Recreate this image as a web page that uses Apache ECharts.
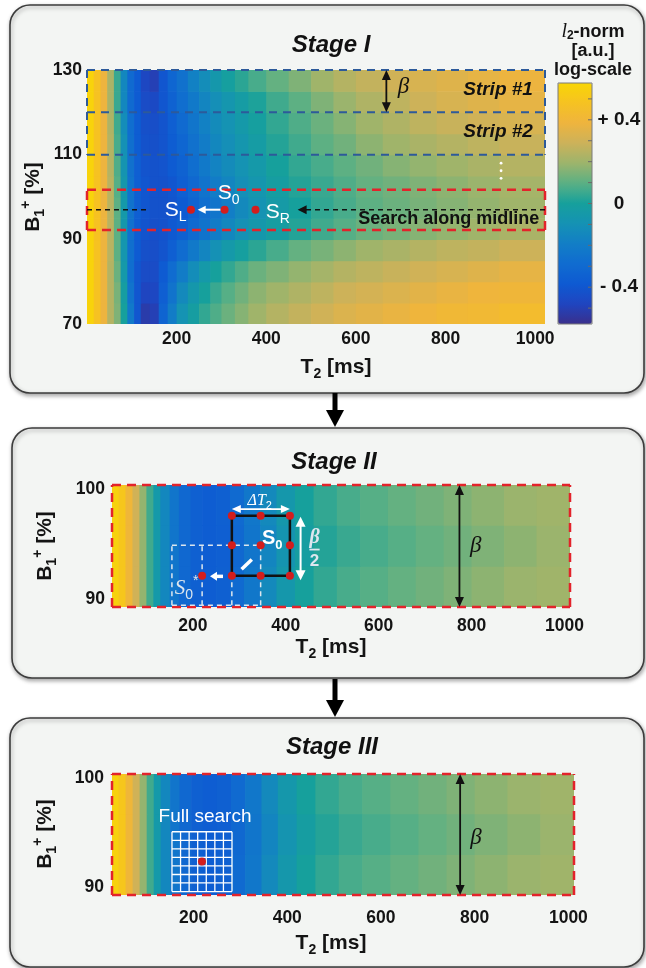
<!DOCTYPE html>
<html>
<head>
<meta charset="utf-8">
<title>Stage I - III search</title>
<script src="https://cdn.jsdelivr.net/npm/echarts@6.0.0/dist/echarts.min.js"></script>
<style>
html,body{margin:0;padding:0;background:#ffffff;}
#chart{width:646px;height:968px;}
</style>
</head>
<body>
<div id="chart"></div>
<script>
// ================= DATA =================
const t2Ticks = [200, 400, 600, 800, 1000];
const stage1B1Ticks = [70, 90, 110, 130];
const stage23B1Ticks = [90, 100];
const colorbarLabelValues = [-0.4, 0, 0.4];
const colorbarTickValues = [-0.5, -0.4, -0.3, -0.2, -0.1, 0, 0.1, 0.2, 0.3, 0.4, 0.5];

const stage1T2Range = [0, 1022];
const stage1B1Range = [70, 130];
const stage23T2Range = [26, 1012];
const stage23B1Range = [89.25, 100.4];
const colorRange = [-0.576, 0.576];

// Stage I map: T2 cell edges [ms], B1 cell edges [%], values (rows from B1=70 upward)
const stage1T2Edges = [0, 15, 30, 45, 60, 75, 90, 105, 120, 140, 160, 180, 200, 225, 250, 275, 300, 330, 360, 400, 450, 500, 550, 600, 660, 720, 780, 850, 920, 1022];
const stage1B1Edges = [70, 75, 80, 85, 90, 95, 100, 105, 110, 115, 120, 125, 130];
const stage1Values = [
  [0.56,0.48,0.38,0.24,0.15,0.00,-0.22,-0.40,-0.52,-0.50,-0.33,-0.20,-0.09,-0.02,0.04,0.08,0.12,0.16,0.20,0.24,0.27,0.30,0.33,0.35,0.37,0.39,0.41,0.42,0.44],
  [0.56,0.48,0.38,0.24,0.14,-0.02,-0.25,-0.40,-0.48,-0.47,-0.36,-0.25,-0.14,-0.06,0.00,0.05,0.09,0.13,0.17,0.20,0.23,0.26,0.29,0.31,0.33,0.35,0.37,0.39,0.40],
  [0.56,0.48,0.38,0.24,0.12,-0.05,-0.28,-0.40,-0.45,-0.45,-0.38,-0.29,-0.20,-0.12,-0.05,0.00,0.04,0.08,0.12,0.15,0.18,0.21,0.24,0.26,0.28,0.30,0.32,0.34,0.36],
  [0.56,0.48,0.38,0.25,0.10,-0.07,-0.27,-0.38,-0.43,-0.44,-0.41,-0.36,-0.29,-0.22,-0.16,-0.10,-0.05,-0.01,0.03,0.07,0.11,0.14,0.17,0.20,0.22,0.24,0.26,0.27,0.29],
  [0.56,0.48,0.38,0.25,0.10,-0.06,-0.26,-0.37,-0.41,-0.43,-0.42,-0.39,-0.35,-0.30,-0.25,-0.20,-0.15,-0.10,-0.06,-0.02,0.02,0.06,0.09,0.12,0.14,0.16,0.18,0.20,0.22],
  [0.56,0.48,0.38,0.25,0.10,-0.05,-0.25,-0.36,-0.40,-0.42,-0.42,-0.41,-0.38,-0.33,-0.28,-0.24,-0.19,-0.14,-0.09,-0.04,0.00,0.04,0.07,0.10,0.12,0.14,0.16,0.18,0.20],
  [0.56,0.48,0.38,0.25,0.09,-0.06,-0.25,-0.36,-0.40,-0.42,-0.42,-0.40,-0.36,-0.31,-0.25,-0.20,-0.16,-0.11,-0.07,-0.02,0.02,0.05,0.08,0.11,0.13,0.15,0.17,0.19,0.21],
  [0.56,0.48,0.38,0.24,0.08,-0.08,-0.26,-0.36,-0.41,-0.42,-0.41,-0.38,-0.34,-0.28,-0.22,-0.17,-0.13,-0.09,-0.05,0.00,0.04,0.07,0.10,0.13,0.16,0.18,0.20,0.22,0.24],
  [0.56,0.48,0.38,0.24,0.07,-0.10,-0.27,-0.37,-0.42,-0.43,-0.41,-0.37,-0.32,-0.26,-0.20,-0.15,-0.11,-0.07,-0.03,0.02,0.06,0.10,0.13,0.17,0.20,0.22,0.24,0.26,0.28],
  [0.56,0.48,0.38,0.23,0.06,-0.12,-0.28,-0.37,-0.43,-0.44,-0.41,-0.36,-0.30,-0.24,-0.18,-0.13,-0.09,-0.05,-0.01,0.04,0.08,0.12,0.16,0.20,0.23,0.26,0.28,0.30,0.32],
  [0.56,0.48,0.38,0.22,0.05,-0.15,-0.30,-0.38,-0.45,-0.46,-0.40,-0.34,-0.28,-0.22,-0.16,-0.11,-0.07,-0.03,0.01,0.06,0.10,0.15,0.19,0.23,0.26,0.29,0.32,0.34,0.36],
  [0.56,0.48,0.38,0.22,0.05,-0.15,-0.30,-0.38,-0.47,-0.50,-0.40,-0.32,-0.26,-0.18,-0.12,-0.06,-0.01,0.03,0.07,0.11,0.15,0.20,0.24,0.27,0.30,0.32,0.34,0.36,0.38]
];

// Stage II / III map (B1 90-100 %)
const stage23T2Edges = [26, 40, 55, 70, 85, 100, 115, 130, 150, 170, 195, 220, 250, 280, 310, 345, 380, 420, 460, 510, 560, 620, 680, 740, 800, 870, 940, 1012];
const stage23B1Edges = [89.25, 93, 96.75, 100.4];
const stage23Values = [
  [0.55,0.50,0.40,0.30,0.18,0.06,-0.05,-0.15,-0.24,-0.31,-0.35,-0.37,-0.35,-0.30,-0.23,-0.14,-0.06,0.00,0.04,0.07,0.09,0.11,0.13,0.15,0.17,0.19,0.20],
  [0.55,0.50,0.40,0.30,0.18,0.06,-0.05,-0.15,-0.24,-0.31,-0.35,-0.37,-0.36,-0.31,-0.24,-0.16,-0.08,-0.02,0.02,0.05,0.07,0.09,0.11,0.13,0.15,0.17,0.19],
  [0.55,0.50,0.40,0.30,0.18,0.06,-0.05,-0.15,-0.24,-0.31,-0.35,-0.37,-0.35,-0.30,-0.23,-0.14,-0.06,0.00,0.04,0.07,0.09,0.11,0.13,0.15,0.17,0.19,0.20]
];

// Annotations, in data units (T2 ms, B1 %)
const stripB1 = [130, 120, 110];
const stripBetaT2 = 668;
const stripNames = ['Strip #1', 'Strip #2'];
const ellipsisT2 = 924;
const ellipsisB1 = [108, 106.2, 104.4];
const searchBandB1 = [101.7, 92.2];
const midlineB1 = 97;
const midlineLeftEndT2 = 136;
const midlineArrowTipT2 = 470;
const searchPointNames = ['L', '0', 'R'];
const searchPointT2 = [232, 307, 376];

const stage2SquareT2 = [284, 346, 409];
const stage2SquareB1 = [92.1, 94.9, 97.6];
const stage2NewCentre = [220, 92.1];
const stage2PrevT2 = [155, 220, 284, 346];
const stage2PrevB1 = [89.4, 94.9];
const betaArrowT2 = 774;

const stage3GridT2 = [154, 172.3, 190.6, 208.9, 227.2, 245.5, 263.8, 282.1];
const stage3GridB1 = [89.57, 90.36, 91.14, 91.93, 92.72, 93.50, 94.29, 95.08];
const stage3Centre = [218, 92.33];

// ================= STYLE =================
const FONT = '"Liberation Sans", Arial, Helvetica, sans-serif';
const SERIF = '"Liberation Serif", "DejaVu Serif", "Times New Roman", serif';
const RED = '#e3232b', BLUE = '#2d5a9a', WHITE = '#ffffff', PALE = '#dde6ee', BLACK = '#111111', DOTRED = '#d31d1d';
const parula = ['#3a2f8c','#1f45c0','#0e5ad2','#106cd0','#127ec6','#1592b4','#16a09c','#5ab084','#9cb46c','#ccb25a','#eeb43e','#f6c222','#f8d606'];

function buildCells(t2Edges, b1Edges, values) {
  const out = [];
  for (let r = 0; r < values.length; r++) {
    for (let c = 0; c < values[r].length; c++) {
      out.push([t2Edges[c], t2Edges[c + 1], b1Edges[r], b1Edges[r + 1], values[r][c]]);
    }
  }
  return out;
}

function renderCell(params, api) {
  const a = api.coord([api.value(0), api.value(3)]);
  const b = api.coord([api.value(1), api.value(2)]);
  return {
    type: 'rect',
    shape: { x: a[0], y: a[1], width: b[0] - a[0] + 0.7, height: b[1] - a[1] + 0.7 },
    style: { fill: api.visual('color') }
  };
}

function seg(p1, p2, color, w, dash) {
  return { type: 'line', shape: { x1: p1[0], y1: p1[1], x2: p2[0], y2: p2[1] },
    style: { stroke: color, lineWidth: w, lineDash: dash || null, fill: null } };
}
function head(tip, from, len, wid, color) {
  const dx = tip[0] - from[0], dy = tip[1] - from[1];
  const d = Math.hypot(dx, dy) || 1, ux = dx / d, uy = dy / d;
  const bx = tip[0] - ux * len, by = tip[1] - uy * len;
  return { type: 'polygon', shape: { points: [[tip[0], tip[1]], [bx - uy * wid / 2, by + ux * wid / 2], [bx + uy * wid / 2, by - ux * wid / 2]] },
    style: { fill: color } };
}
function arrow(from, to, color, w, len, wid, both) {
  const dx = to[0] - from[0], dy = to[1] - from[1];
  const d = Math.hypot(dx, dy) || 1, ux = dx / d, uy = dy / d;
  const s = both ? [from[0] + ux * len * 0.8, from[1] + uy * len * 0.8] : from;
  const e = [to[0] - ux * len * 0.8, to[1] - uy * len * 0.8];
  const out = [seg(s, e, color, w), head(to, from, len, wid, color)];
  if (both) out.push(head(from, to, len, wid, color));
  return out;
}
function dot(p, r, color) {
  return { type: 'circle', shape: { cx: p[0], cy: p[1], r: r }, style: { fill: color } };
}
function txt(p, text, st, align, valign) {
  return { type: 'text', x: p[0], y: p[1],
    style: Object.assign({ text: text, align: align || 'center', verticalAlign: valign || 'middle',
      textAlign: align || 'center', textVerticalAlign: valign || 'middle' }, st) };
}
function subRich(size, color, weight, mainStyle, mainFamily) {
  return {
    m: { fontSize: size, fontWeight: weight, fontStyle: mainStyle || 'normal', fontFamily: mainFamily || FONT, fill: color, lineHeight: Math.round(size * 1.35) },
    s: { fontSize: Math.round(size * 0.66), fontWeight: weight, fontFamily: FONT, fill: color, verticalAlign: 'bottom', lineHeight: Math.round(size * 0.8) },
    u: { fontSize: Math.round(size * 0.66), fontWeight: weight, fontFamily: FONT, fill: color, verticalAlign: 'top', lineHeight: Math.round(size * 0.8) }
  };
}
function redBorder(c, tr, br) {
  const dash = [9, 6];
  return [
    seg(c(tr[0], br[1]), c(tr[1], br[1]), RED, 2.5, dash),
    seg(c(tr[0], br[0]), c(tr[1], br[0]), RED, 2.5, dash),
    seg(c(tr[0], br[0]), c(tr[0], br[1]), RED, 2.5, dash),
    seg(c(tr[1], br[0]), c(tr[1], br[1]), RED, 2.5, dash)
  ];
}

function renderStage1Overlay(params, api) {
  const c = (t, b) => api.coord([t, b]);
  const t0 = stage1T2Range[0], t1 = stage1T2Range[1];
  const ch = [];
  const dB = [8, 6];
  stripB1.forEach(b => ch.push(seg(c(t0, b), c(t1, b), BLUE, 2, dB)));
  ch.push(seg(c(t0, stripB1[0]), c(t0, stripB1[2]), BLUE, 2, dB));
  ch.push(seg(c(t1, stripB1[0]), c(t1, stripB1[2]), BLUE, 2, dB));
  ch.push(...arrow(c(stripBetaT2, stripB1[1]), c(stripBetaT2, stripB1[0]), BLACK, 1.8, 10, 9, true));
  ch.push(txt(c(706, 126), 'β', { fill: BLACK, fontSize: 23, fontStyle: 'italic', fontFamily: SERIF }));
  const stripMid = [125.3, 115.4];
  stripNames.forEach((n, i) => ch.push(txt(c(995, stripMid[i]), n,
    { fill: BLACK, fontSize: 19, fontStyle: 'italic', fontWeight: 'bold', fontFamily: FONT }, 'right')));
  ellipsisB1.forEach(b => ch.push(dot(c(ellipsisT2, b), 1.4, WHITE)));
  ch.push(...redBorder(c, [t0, t1], searchBandB1.slice().sort((a, b) => a - b)));
  ch.push(seg(c(t0, midlineB1), c(midlineLeftEndT2, midlineB1), BLACK, 1.5, [5, 4]));
  ch.push(seg(c(t1, midlineB1), c(midlineArrowTipT2 + 14, midlineB1), BLACK, 1.5, [5, 4]));
  ch.push(head(c(midlineArrowTipT2, midlineB1), c(midlineArrowTipT2 + 30, midlineB1), 9, 9, BLACK));
  ch.push(...arrow(c(298, midlineB1), c(247, midlineB1), WHITE, 2, 8, 8, false));
  searchPointT2.forEach(t => ch.push(dot(c(t, midlineB1), 4, DOTRED)));
  const rich = subRich(21, WHITE, 'normal');
  ch.push(txt(c(222, 96.9), '{m|S}{s|L}', { rich: rich, fill: WHITE }, 'right'));
  ch.push(txt(c(292, 100.9), '{m|S}{s|0}', { rich: rich, fill: WHITE }, 'left'));
  ch.push(txt(c(399, 96.5), '{m|S}{s|R}', { rich: rich, fill: WHITE }, 'left'));
  ch.push(txt(c(1009, 94.8), 'Search along midline',
    { fill: BLACK, fontSize: 18, fontWeight: 'bold', fontFamily: FONT }, 'right'));
  return { type: 'group', children: ch };
}

function renderStage2Overlay(params, api) {
  const c = (t, b) => api.coord([t, b]);
  const ch = [];
  ch.push(...redBorder(c, stage23T2Range, stage23B1Range));
  const dW = [5, 4];
  stage2PrevB1.forEach(b => ch.push(seg(c(stage2PrevT2[0], b), c(stage2PrevT2[3], b), PALE, 1.5, dW)));
  stage2PrevT2.forEach(t => ch.push(seg(c(t, stage2PrevB1[0]), c(t, stage2PrevB1[1]), PALE, 1.5, dW)));
  const sq = [[0, 0], [2, 0], [2, 2], [0, 2]].map(k => c(stage2SquareT2[k[0]], stage2SquareB1[k[1]]));
  for (let i = 0; i < 4; i++) ch.push(seg(sq[i], sq[(i + 1) % 4], BLACK, 2.5));
  ch.push(...arrow(c(265, 92.05), c(237, 92.05), WHITE, 3.5, 7, 9, false));
  ch.push(seg(c(305, 92.7), c(327, 93.6), WHITE, 3.5));
  stage2SquareT2.forEach(t => stage2SquareB1.forEach(b => ch.push(dot(c(t, b), 4, DOTRED))));
  ch.push(dot(c(stage2NewCentre[0], stage2NewCentre[1]), 4, DOTRED));
  ch.push(...arrow(c(stage2SquareT2[0], 98.2), c(stage2SquareT2[2], 98.2), WHITE, 1.8, 9, 8, true));
  ch.push(txt(c(344, 98.95), '{m|ΔT}{s|2}', { rich: subRich(16, WHITE, 'normal', 'italic', SERIF), fill: WHITE }));
  ch.push(...arrow(c(432, 97.5), c(432, 91.7), WHITE, 2, 10, 10, true));
  ch.push(txt(c(462, 95.6), 'β', { fill: PALE, fontSize: 20, fontStyle: 'italic', fontWeight: 'bold', fontFamily: SERIF }));
  ch.push(seg(c(451, 94.5), c(473, 94.5), PALE, 1.8));
  ch.push(txt(c(462, 93.45), '2', { fill: PALE, fontSize: 17, fontWeight: 'bold', fontFamily: FONT }));
  ch.push(txt(c(349, 95.55), '{m|S}{s|0}', { rich: subRich(20, WHITE, 'bold'), fill: WHITE }, 'left'));
  ch.push(txt(c(161, 90.95), '{m|S}{s|0}{u|*}', { rich: subRich(21, PALE, 'normal', 'italic', SERIF), fill: PALE }, 'left'));
  ch.push(...arrow(c(betaArrowT2, stage23B1Range[0]), c(betaArrowT2, stage23B1Range[1]), BLACK, 1.8, 10, 9, true));
  ch.push(txt(c(809, 94.8), 'β', { fill: BLACK, fontSize: 23, fontStyle: 'italic', fontFamily: SERIF }));
  return { type: 'group', children: ch };
}

function renderStage3Overlay(params, api) {
  const c = (t, b) => api.coord([t, b]);
  const ch = [];
  ch.push(...redBorder(c, stage23T2Range, stage23B1Range));
  const g0 = stage3GridT2[0], g1 = stage3GridT2[stage3GridT2.length - 1];
  const h0 = stage3GridB1[0], h1 = stage3GridB1[stage3GridB1.length - 1];
  stage3GridT2.forEach(t => ch.push(seg(c(t, h0), c(t, h1), WHITE, 1.3)));
  stage3GridB1.forEach(b => ch.push(seg(c(g0, b), c(g1, b), WHITE, 1.3)));
  ch.push(dot(c(stage3Centre[0], stage3Centre[1]), 4, DOTRED));
  ch.push(txt(c(224.5, 96.45), 'Full search', { fill: WHITE, fontSize: 19, fontFamily: FONT }));
  ch.push(...arrow(c(769, stage23B1Range[0]), c(769, stage23B1Range[1]), BLACK, 1.8, 10, 9, true));
  ch.push(txt(c(803, 94.5), 'β', { fill: BLACK, fontSize: 23, fontStyle: 'italic', fontFamily: SERIF }));
  return { type: 'group', children: ch };
}

function renderColorbarTick(params, api) {
  const p = api.coord([1, api.value(0)]);
  return { type: 'line', shape: { x1: p[0] - 4, y1: p[1], x2: p[0], y2: p[1] }, style: { stroke: '#6a6a6a', lineWidth: 1 } };
}

// ================= AXES =================
const tickFont = { fontFamily: FONT, fontWeight: 'bold', fontSize: 17.5, color: '#141414' };
const plainNum = v => String(Math.round(v));
function xAx(gi, range, margin) {
  return { type: 'value', gridIndex: gi, min: range[0], max: range[1], z: 5,
    axisLine: { show: false }, axisTick: { show: false }, splitLine: { show: false },
    axisLabel: Object.assign({ customValues: t2Ticks, margin: margin, formatter: plainNum }, tickFont) };
}
function yAx(gi, range, ticks, margin) {
  return { type: 'value', gridIndex: gi, min: range[0], max: range[1], z: 5,
    axisLine: { show: false }, axisTick: { show: false }, splitLine: { show: false },
    axisLabel: Object.assign({ customValues: ticks, margin: margin, formatter: plainNum }, tickFont) };
}

// ================= GRAPHIC =================
function panel(x, y, w, h) {
  return { type: 'rect', z: -10, shape: { x: x, y: y, width: w, height: h, r: 20 },
    style: { fill: '#f3f5f3', stroke: '#3c3c3c', lineWidth: 1.6, shadowBlur: 4, shadowColor: 'rgba(0,0,0,0.35)', shadowOffsetX: 1, shadowOffsetY: 2 } };
}
function gtext(x, y, text, st, rotation) {
  return { type: 'text', x: x, y: y, rotation: rotation || 0, z: 30,
    style: Object.assign({ text: text, align: 'center', verticalAlign: 'middle', textAlign: 'center', textVerticalAlign: 'middle' }, st) };
}
function downArrow(top, bottom) {
  return [
    { type: 'rect', z: 30, shape: { x: 332.5, y: top, width: 5, height: bottom - top - 16 }, style: { fill: '#000' } },
    { type: 'polygon', z: 30, shape: { points: [[326, bottom - 17], [344, bottom - 17], [335, bottom]] }, style: { fill: '#000' } }
  ];
}
const titleStyle = { fontFamily: FONT, fontWeight: 'bold', fontStyle: 'italic', fontSize: 24, fill: '#111' };
const yNameRich = subRich(21, '#141414', 'bold');
const xNameRich = subRich(21, '#141414', 'bold');
const yName = '{m|B}{s|1}{u|+}{m| [%]}';
const xName = '{m|T}{s|2}{m| [ms]}';
const cbRich = {
  l: { fontFamily: SERIF, fontStyle: 'italic', fontSize: 20, fill: '#141414', lineHeight: 19 },
  s: { fontFamily: FONT, fontWeight: 'bold', fontSize: 12, fill: '#141414', verticalAlign: 'bottom', lineHeight: 12 },
  b: { fontFamily: FONT, fontWeight: 'bold', fontSize: 18, fill: '#141414', lineHeight: 19 }
};

const graphicEls = [
  panel(10, 5, 634, 388),
  panel(12, 428, 632, 250),
  panel(10, 718, 634, 249),
  ...downArrow(393, 427),
  ...downArrow(679, 717),
  gtext(331, 45, 'Stage I', titleStyle),
  gtext(334, 462, 'Stage II', titleStyle),
  gtext(332, 747, 'Stage III', titleStyle),
  gtext(33, 197, yName, { rich: yNameRich }, Math.PI / 2),
  gtext(45, 546, yName, { rich: yNameRich }, Math.PI / 2),
  gtext(45, 834, yName, { rich: yNameRich }, Math.PI / 2),
  gtext(336, 367, xName, { rich: xNameRich }),
  gtext(331, 647, xName, { rich: xNameRich }),
  gtext(331, 943, xName, { rich: xNameRich }),
  gtext(593, 51, '{l|l}{s|2}{b|-norm}\n{b|[a.u.]}\n{b|log-scale}', { rich: cbRich }),
  { type: 'rect', z: 40, shape: { x: 558, y: 83, width: 34, height: 241 }, style: { fill: null, stroke: '#7a7a7a', lineWidth: 1 } }
];

// ================= OPTION =================
const option = {
  animation: false,
  backgroundColor: '#ffffff',
  grid: [
    { left: 87, top: 70, width: 458, height: 254 },
    { left: 112, top: 485, width: 458, height: 122 },
    { left: 112, top: 774, width: 462, height: 121 },
    { left: 558, top: 83, width: 34, height: 241 }
  ],
  xAxis: [
    xAx(0, stage1T2Range, 6),
    xAx(1, stage23T2Range, 10),
    xAx(2, stage23T2Range, 14),
    { type: 'value', gridIndex: 3, show: false, min: 0, max: 1 }
  ],
  yAxis: [
    yAx(0, stage1B1Range, stage1B1Ticks, 5),
    yAx(1, stage23B1Range, stage23B1Ticks, 7),
    yAx(2, stage23B1Range, stage23B1Ticks, 8),
    { type: 'value', gridIndex: 3, position: 'right', min: colorRange[0], max: colorRange[1], z: 45,
      axisLine: { show: false }, splitLine: { show: false }, axisTick: { show: false },
      axisLabel: Object.assign({ customValues: colorbarLabelValues, margin: 27, align: 'center', fontSize: 19,
        formatter: function (v) { const r = Math.round(v * 10) / 10; return r > 0 ? '+ ' + r : (r < 0 ? '- ' + Math.abs(r) : '0'); } },
        { fontFamily: FONT, fontWeight: 'bold', color: '#141414' }) }
  ],
  visualMap: {
    type: 'continuous', min: colorRange[0], max: colorRange[1], dimension: 4, seriesIndex: [0, 1, 2],
    inRange: { color: parula }, orient: 'vertical', left: 558, top: 83, itemWidth: 34, itemHeight: 241,
    calculable: false, hoverLink: false, padding: 0, show: true, z: 4
  },
  series: [
    { type: 'custom', name: 'Stage I map', xAxisIndex: 0, yAxisIndex: 0, clip: true, silent: true,
      encode: { x: [0, 1], y: [2, 3] }, renderItem: renderCell, data: buildCells(stage1T2Edges, stage1B1Edges, stage1Values) },
    { type: 'custom', name: 'Stage II map', xAxisIndex: 1, yAxisIndex: 1, clip: true, silent: true,
      encode: { x: [0, 1], y: [2, 3] }, renderItem: renderCell, data: buildCells(stage23T2Edges, stage23B1Edges, stage23Values) },
    { type: 'custom', name: 'Stage III map', xAxisIndex: 2, yAxisIndex: 2, clip: true, silent: true,
      encode: { x: [0, 1], y: [2, 3] }, renderItem: renderCell, data: buildCells(stage23T2Edges, stage23B1Edges, stage23Values) },
    { type: 'custom', name: 'Stage I marks', xAxisIndex: 0, yAxisIndex: 0, clip: false, silent: true, z: 10,
      renderItem: renderStage1Overlay, data: [[500, 100]] },
    { type: 'custom', name: 'Stage II marks', xAxisIndex: 1, yAxisIndex: 1, clip: false, silent: true, z: 10,
      renderItem: renderStage2Overlay, data: [[500, 95]] },
    { type: 'custom', name: 'Stage III marks', xAxisIndex: 2, yAxisIndex: 2, clip: false, silent: true, z: 10,
      renderItem: renderStage3Overlay, data: [[500, 95]] },
    { type: 'custom', name: 'Colorbar ticks', xAxisIndex: 3, yAxisIndex: 3, clip: false, silent: true, z: 45,
      encode: { y: 0 }, renderItem: renderColorbarTick, data: colorbarTickValues.map(v => [v]) }
  ],
  graphic: { elements: graphicEls }
};

const chart = echarts.init(document.getElementById('chart'), null, { renderer: 'canvas' });
chart.setOption(option);
</script>
</body>
</html>
